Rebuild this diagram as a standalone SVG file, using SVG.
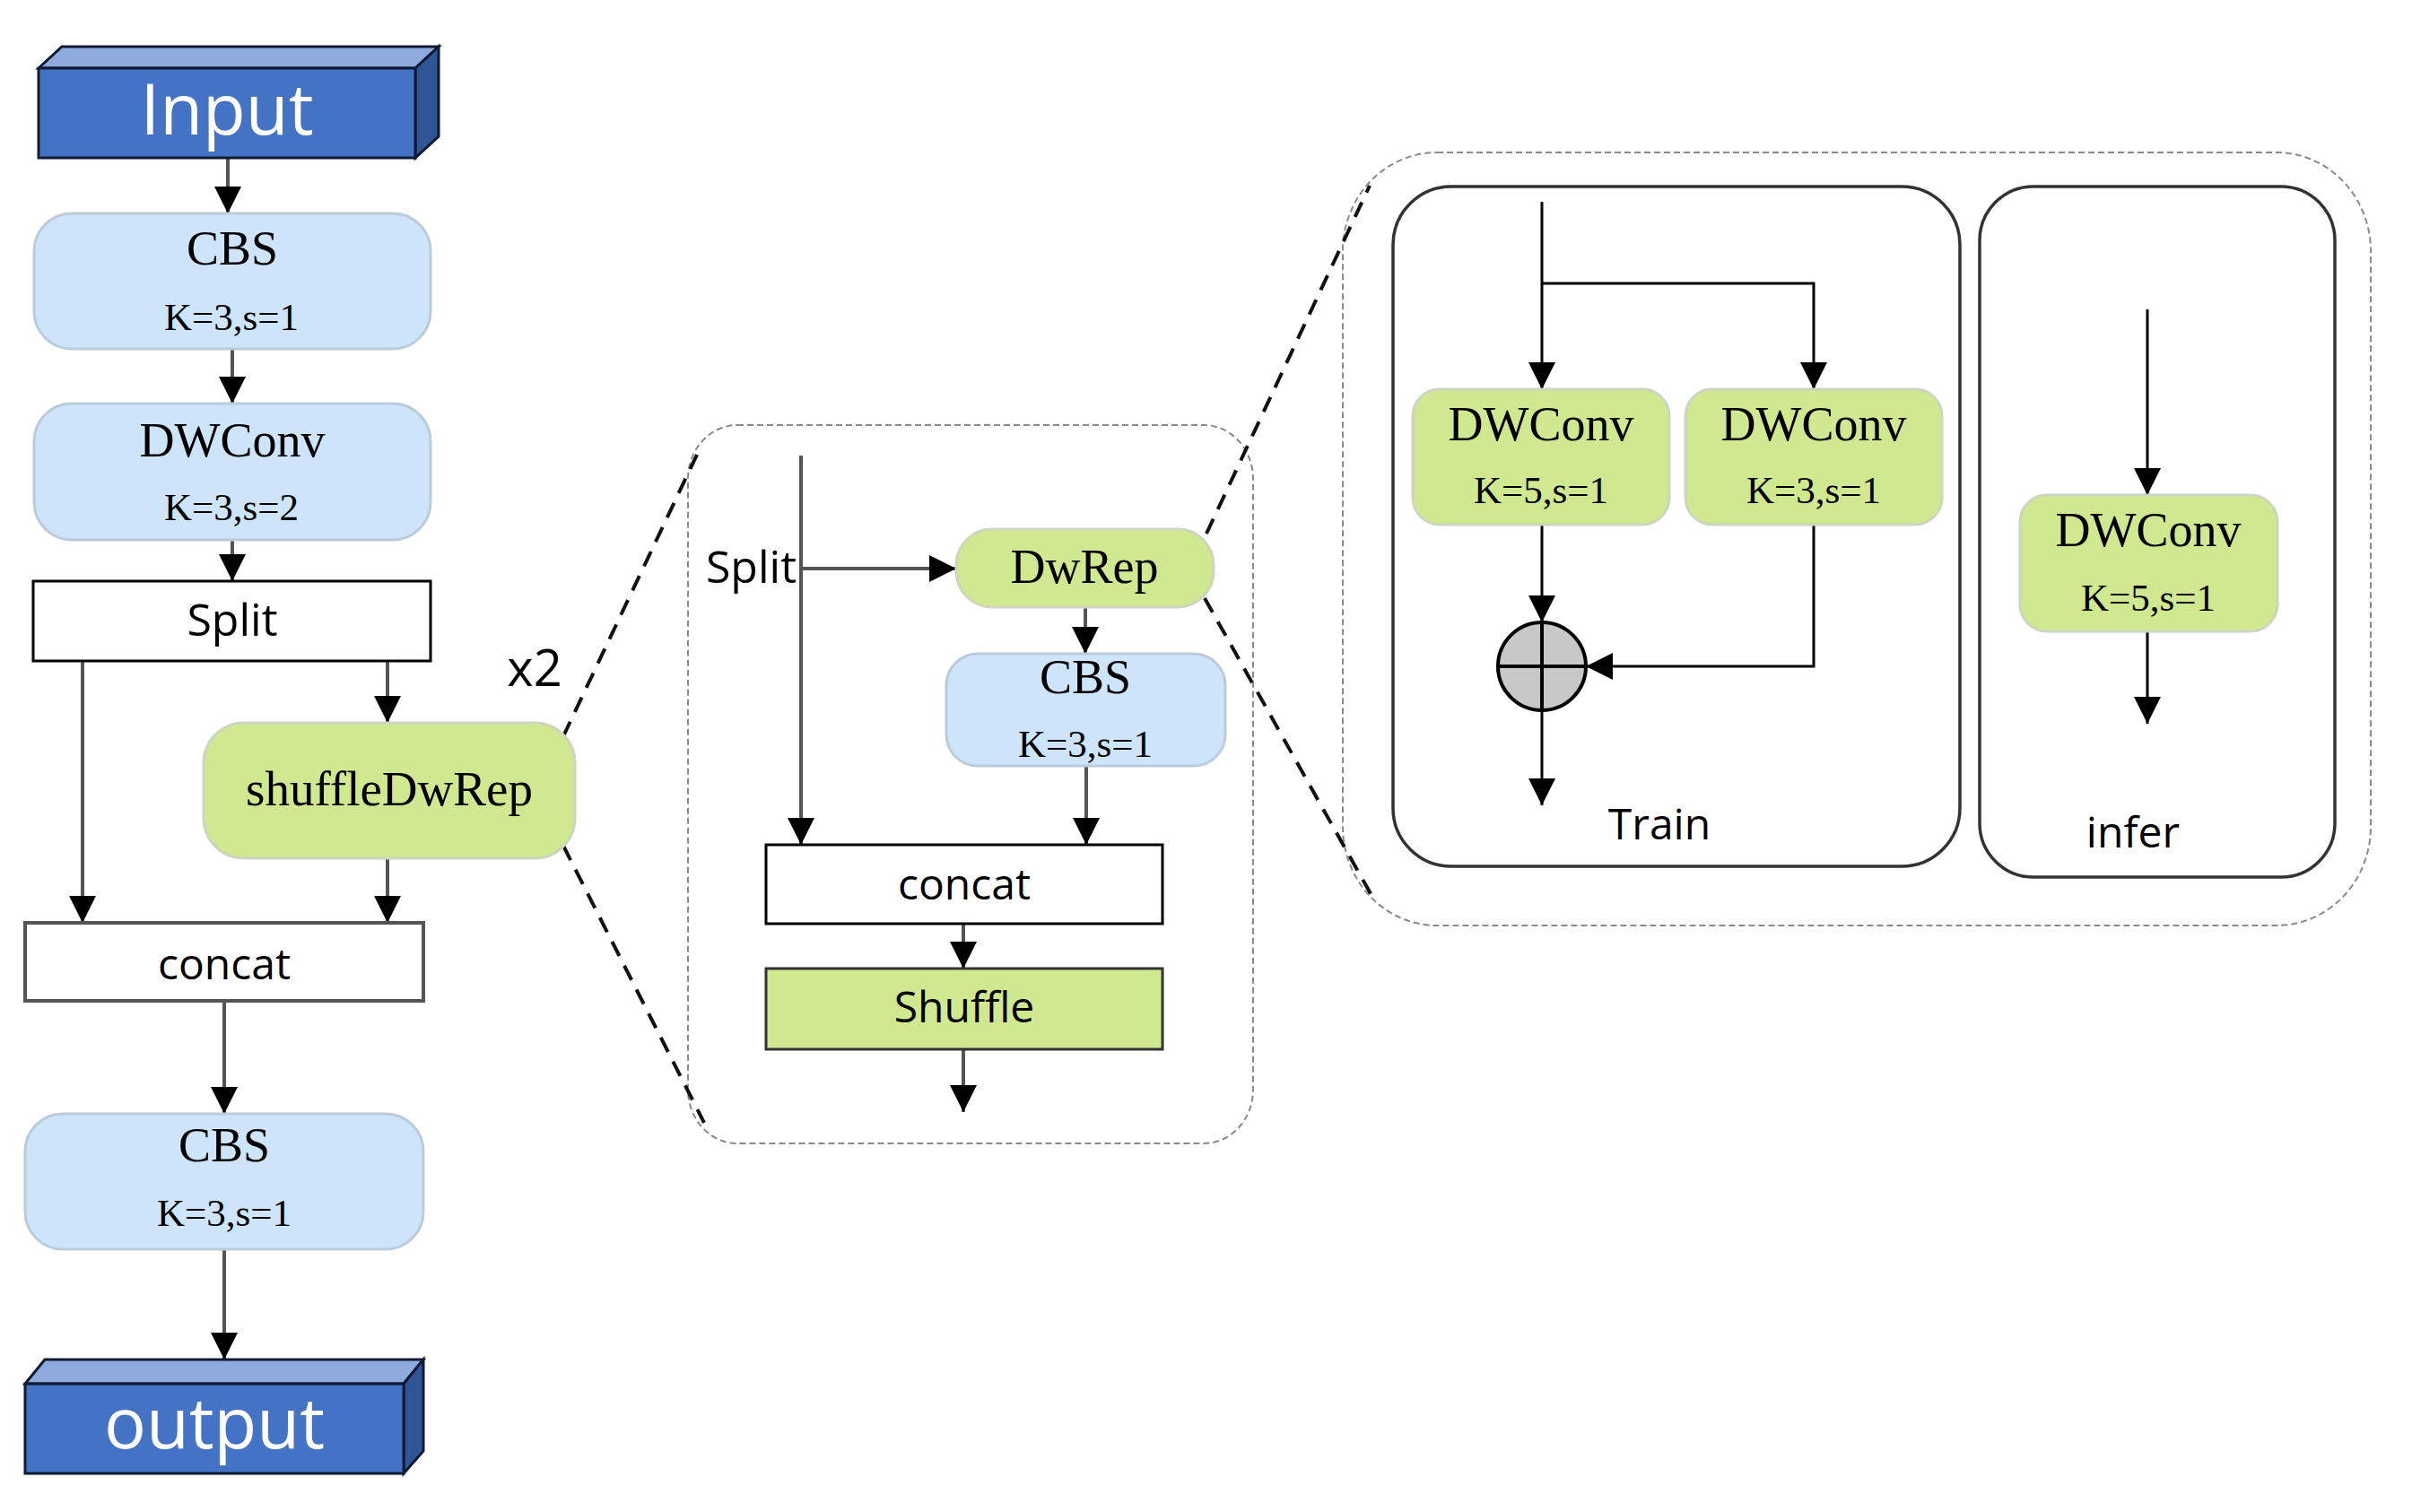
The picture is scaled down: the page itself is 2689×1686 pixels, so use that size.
<svg xmlns="http://www.w3.org/2000/svg" width="2689" height="1686" viewBox="0 0 2689 1686">
<defs>
<marker id="ah" markerUnits="userSpaceOnUse" markerWidth="32" markerHeight="32" refX="30" refY="15" orient="auto">
<path d="M0,0 L30,15 L0,30 z" fill="#000"/>
</marker>
</defs>
<style>
.blue{fill:#cde4fa;stroke:#bccbd9;stroke-width:3}
.green{fill:#d0e890;stroke:#ccd6bf;stroke-width:3}
.white{fill:#fff;stroke:#000;stroke-width:3}
.whiteg{fill:#fff;stroke:#555;stroke-width:4}
.serif{font-family:"Liberation Serif","Times New Roman",serif;fill:#000;text-anchor:middle}
.t54{font-size:54px}
.t44{font-size:43px}
.sans{font-family:"Open Sans","DejaVu Sans",sans-serif;fill:#000;text-anchor:middle}
.io{font-family:"Open Sans","DejaVu Sans",sans-serif;fill:#fff;text-anchor:middle;font-size:78px}
.front{fill:#4472c4;stroke:#111a33;stroke-width:3}
.top{fill:#8faadc;stroke:#111a33;stroke-width:3}
.side{fill:#2f5597;stroke:#111a33;stroke-width:3}
.ln{fill:none;stroke:#555;stroke-width:4;marker-end:url(#ah)}
.lk{fill:none;stroke:#000;stroke-width:3;marker-end:url(#ah)}
.zoom{fill:none;stroke:#111;stroke-width:4;stroke-dasharray:18 12}
.frame{fill:none;stroke:#8a8a8a;stroke-width:2;stroke-dasharray:7 4}
.panel{fill:none;stroke:#333;stroke-width:3.5}
</style>

<g id="frames">
<rect class="frame" x="767" y="474" width="630" height="801" rx="55" ry="60"/>
<rect class="frame" x="1497" y="170" width="1146" height="862" rx="105" ry="110"/>
<rect id="train-panel" class="panel" x="1553" y="208" width="632" height="758" rx="65"/>
<rect id="infer-panel" class="panel" x="2207" y="208" width="396" height="770" rx="60"/>
</g>

<g id="connectors">
<line class="ln" x1="254" y1="176" x2="254" y2="238"/>
<line class="ln" x1="259" y1="389" x2="259" y2="450"/>
<line class="ln" x1="259" y1="602" x2="259" y2="648"/>
<line class="ln" x1="92" y1="737" x2="92" y2="1029"/>
<line class="ln" x1="432" y1="737" x2="432" y2="806"/>
<line class="ln" x1="432" y1="957" x2="432" y2="1029"/>
<line class="ln" x1="250" y1="1116" x2="250" y2="1242"/>
<line class="ln" x1="250" y1="1393" x2="250" y2="1516"/>

<line class="ln" x1="893" y1="508" x2="893" y2="942"/>
<line class="ln" x1="893" y1="634" x2="1066" y2="634"/>
<line class="ln" x1="1210" y1="677" x2="1210" y2="729"/>
<line class="ln" x1="1211" y1="854" x2="1211" y2="942"/>
<line class="ln" x1="1074" y1="1030" x2="1074" y2="1080"/>
<line class="ln" x1="1074" y1="1170" x2="1074" y2="1240"/>

<line class="lk" x1="1719" y1="225" x2="1719" y2="434"/>
<path class="lk" d="M1719,316 H2022 V434"/>
<line class="lk" x1="1719" y1="585" x2="1719" y2="694"/>
<path class="lk" d="M2022,585 V743 H1768"/>
<line class="lk" x1="1719" y1="792" x2="1719" y2="898"/>
<line class="lk" x1="2394" y1="345" x2="2394" y2="552"/>
<line class="lk" x1="2394" y1="704" x2="2394" y2="807"/>

<line class="zoom" x1="628" y1="821" x2="777" y2="507"/>
<line class="zoom" x1="628" y1="943" x2="785" y2="1252"/>
<line class="zoom" x1="1345" y1="595" x2="1527" y2="207"/>
<line class="zoom" x1="1343" y1="667" x2="1530" y2="1000"/>
</g>

<g id="input">
<polygon class="top" points="43,76 69,52 489,52 463,76"/>
<polygon class="side" points="463,76 489,52 489,152 463,176"/>
<rect class="front" x="43" y="76" width="420" height="100"/>
<text class="io" x="253" y="150">Input</text>
</g>

<g id="cbs1">
<rect class="blue" x="38" y="238" width="442" height="151" rx="42"/>
<text class="serif t54" x="259" y="295">CBS</text>
<text class="serif t44" x="258" y="368">K=3,s=1</text>
</g>

<g id="dwconv1">
<rect class="blue" x="38" y="450" width="442" height="152" rx="42"/>
<text class="serif t54" x="259" y="509">DWConv</text>
<text class="serif t44" x="258" y="580">K=3,s=2</text>
</g>

<g id="split">
<rect class="white" x="37" y="648" width="443" height="89"/>
<text class="sans" x="259" y="709" font-size="50">Split</text>
</g>

<g id="x2label">
<text class="sans" x="596" y="765" font-size="56">x2</text>
</g>

<g id="shuffledwrep">
<rect class="green" x="227" y="806" width="414" height="151" rx="45"/>
<text class="serif" x="434" y="898" font-size="55">shuffleDwRep</text>
</g>

<g id="concat1">
<rect class="whiteg" x="28" y="1029" width="444" height="87"/>
<text class="sans" x="250" y="1092" font-size="48">concat</text>
</g>

<g id="cbs2">
<rect class="blue" x="28" y="1242" width="444" height="151" rx="42"/>
<text class="serif t54" x="250" y="1295">CBS</text>
<text class="serif t44" x="250" y="1367">K=3,s=1</text>
</g>

<g id="output">
<polygon class="top" points="28,1543 50,1516 472,1516 450,1543"/>
<polygon class="side" points="450,1543 472,1516 472,1618 450,1643"/>
<rect class="front" x="28" y="1543" width="422" height="100"/>
<text class="io" x="239" y="1615">output</text>
</g>

<g id="split-label">
<text class="sans" x="888" y="650" font-size="50" text-anchor="end" style="text-anchor:end">Split</text>
</g>

<g id="dwrep">
<rect class="green" x="1066" y="590" width="287" height="87" rx="40"/>
<text class="serif t54" x="1209" y="650">DwRep</text>
</g>

<g id="cbs3">
<rect class="blue" x="1055" y="729" width="311" height="125" rx="35"/>
<text class="serif t54" x="1210" y="773">CBS</text>
<text class="serif t44" x="1210" y="844">K=3,s=1</text>
</g>

<g id="concat2">
<rect class="white" x="854" y="942" width="442" height="88"/>
<text class="sans" x="1075" y="1003" font-size="48">concat</text>
</g>

<g id="shuffle">
<rect fill="#d0e890" stroke="#333" stroke-width="3" x="854" y="1080" width="442" height="90"/>
<text class="sans" x="1075" y="1140" font-size="48">Shuffle</text>
</g>

<g id="dwconv-k5-train">
<rect class="green" x="1575" y="434" width="286" height="151" rx="30"/>
<text class="serif t54" x="1718" y="491">DWConv</text>
<text class="serif t44" x="1718" y="561">K=5,s=1</text>
</g>

<g id="dwconv-k3-train">
<rect class="green" x="1879" y="434" width="286" height="151" rx="30"/>
<text class="serif t54" x="2022" y="491">DWConv</text>
<text class="serif t44" x="2022" y="561">K=3,s=1</text>
</g>

<g id="add">
<circle cx="1719" cy="743" r="49" fill="#c8c8c8" stroke="#000" stroke-width="4"/>
<line x1="1719" y1="694" x2="1719" y2="792" stroke="#000" stroke-width="4"/>
<line x1="1670" y1="743" x2="1768" y2="743" stroke="#000" stroke-width="4"/>
</g>

<g id="train-label">
<text class="sans" x="1850" y="936" font-size="48">Train</text>
</g>

<g id="dwconv-k5-infer">
<rect class="green" x="2252" y="552" width="287" height="152" rx="30"/>
<text class="serif t54" x="2395" y="609">DWConv</text>
<text class="serif t44" x="2395" y="681">K=5,s=1</text>
</g>

<g id="infer-label">
<text class="sans" x="2378" y="945" font-size="48">infer</text>
</g>
</svg>
